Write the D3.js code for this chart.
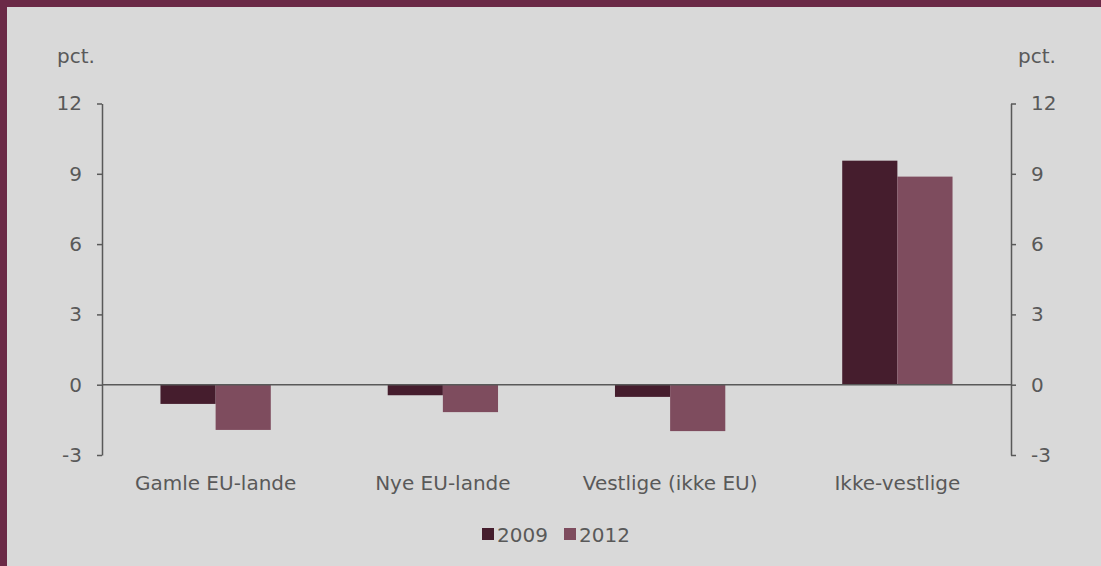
<!DOCTYPE html>
<html><head><meta charset="utf-8">
<script src="https://cdn.jsdelivr.net/npm/d3@7/dist/d3.min.js"></script>
<style>
html,body{margin:0;padding:0;background:#d9d9d9;}
svg{display:block;font-family:"DejaVu Sans",Verdana,sans-serif;}
</style></head><body>
<svg id="c" width="1101" height="566"></svg>
<script>
const categories = ["Gamle EU-lande","Nye EU-lande","Vestlige (ikke EU)","Ikke-vestlige"];
const seriesNames = ["2009","2012"];
const values2009 = [-0.82,-0.45,-0.52,9.56];
const values2012 = [-1.93,-1.17,-1.98,8.88];
const yTicks = [-3,0,3,6,9,12];
const colors = ["#451d2d","#7e4c5e"];

const svg = d3.select("#c");
const W=1101,H=566;
svg.append("rect").attr("width",W).attr("height",H).attr("fill","#d9d9d9");
svg.append("rect").attr("x",0).attr("y",0).attr("width",W).attr("height",7).attr("fill","#6b2a47");
svg.append("rect").attr("x",0).attr("y",0).attr("width",7).attr("height",H).attr("fill","#6b2a47");

const x0=102,x1=1011;
const y = d3.scaleLinear().domain([-3,12]).range([455,103.5]);
const x = d3.scaleBand().domain(categories).range([x0,x1]).paddingInner(0).paddingOuter(0);
const xs = d3.scaleBand().domain(seriesNames).range([0,x.bandwidth()]).paddingInner(0).paddingOuter(1.06);
const textColor="#595959", axisColor="#595959";
const fs=20;

const data = categories.map((c,i)=>({c, v:[values2009[i],values2012[i]]}));
const g = svg.append("g");
data.forEach(d=>{
  d.v.forEach((v,j)=>{
    g.append("rect")
      .attr("x", x(d.c)+xs(seriesNames[j]))
      .attr("width", xs.bandwidth())
      .attr("y", y(Math.max(0,v)))
      .attr("height", Math.abs(y(v)-y(0)))
      .attr("fill", colors[j]);
  });
});

const fmt = d=>String(d);
const la = svg.append("g").attr("transform",`translate(${x0},0)`)
  .call(d3.axisLeft(y).tickValues(yTicks).tickFormat(fmt).tickSize(5).tickPadding(15).tickSizeOuter(0));
const ra = svg.append("g").attr("transform",`translate(${x1},0)`)
  .call(d3.axisRight(y).tickValues(yTicks).tickFormat(fmt).tickSize(5).tickPadding(15).tickSizeOuter(0));
[la,ra].forEach(a=>{
  a.select(".domain").attr("stroke",axisColor).attr("stroke-width",1.5);
  a.selectAll(".tick line").attr("stroke",axisColor).attr("stroke-width",1.5);
  a.selectAll(".tick text").attr("fill",textColor).style("font-size",fs+"px").style("font-family","DejaVu Sans");
});
svg.append("line").attr("x1",x0).attr("x2",x1).attr("y1",y(0)).attr("y2",y(0))
  .attr("stroke",axisColor).attr("stroke-width",1.5);

svg.append("g").selectAll("text").data(categories).join("text")
  .attr("x",d=>x(d)+x.bandwidth()/2).attr("y",490)
  .attr("text-anchor","middle").attr("fill",textColor).style("font-size",fs+"px")
  .text(d=>d);

svg.append("text").attr("x",57).attr("y",63).attr("fill",textColor).style("font-size",fs+"px").text("pct.");
svg.append("text").attr("x",1018).attr("y",63).attr("fill",textColor).style("font-size",fs+"px").text("pct.");

const leg = svg.append("g");
const legX=[482,564];
seriesNames.forEach((s,i)=>{
  leg.append("rect").attr("x",legX[i]).attr("y",528).attr("width",12).attr("height",12).attr("fill",colors[i]);
  leg.append("text").attr("x",legX[i]+15).attr("y",542).attr("fill",textColor).style("font-size",fs+"px").text(s);
});
</script></body></html>
